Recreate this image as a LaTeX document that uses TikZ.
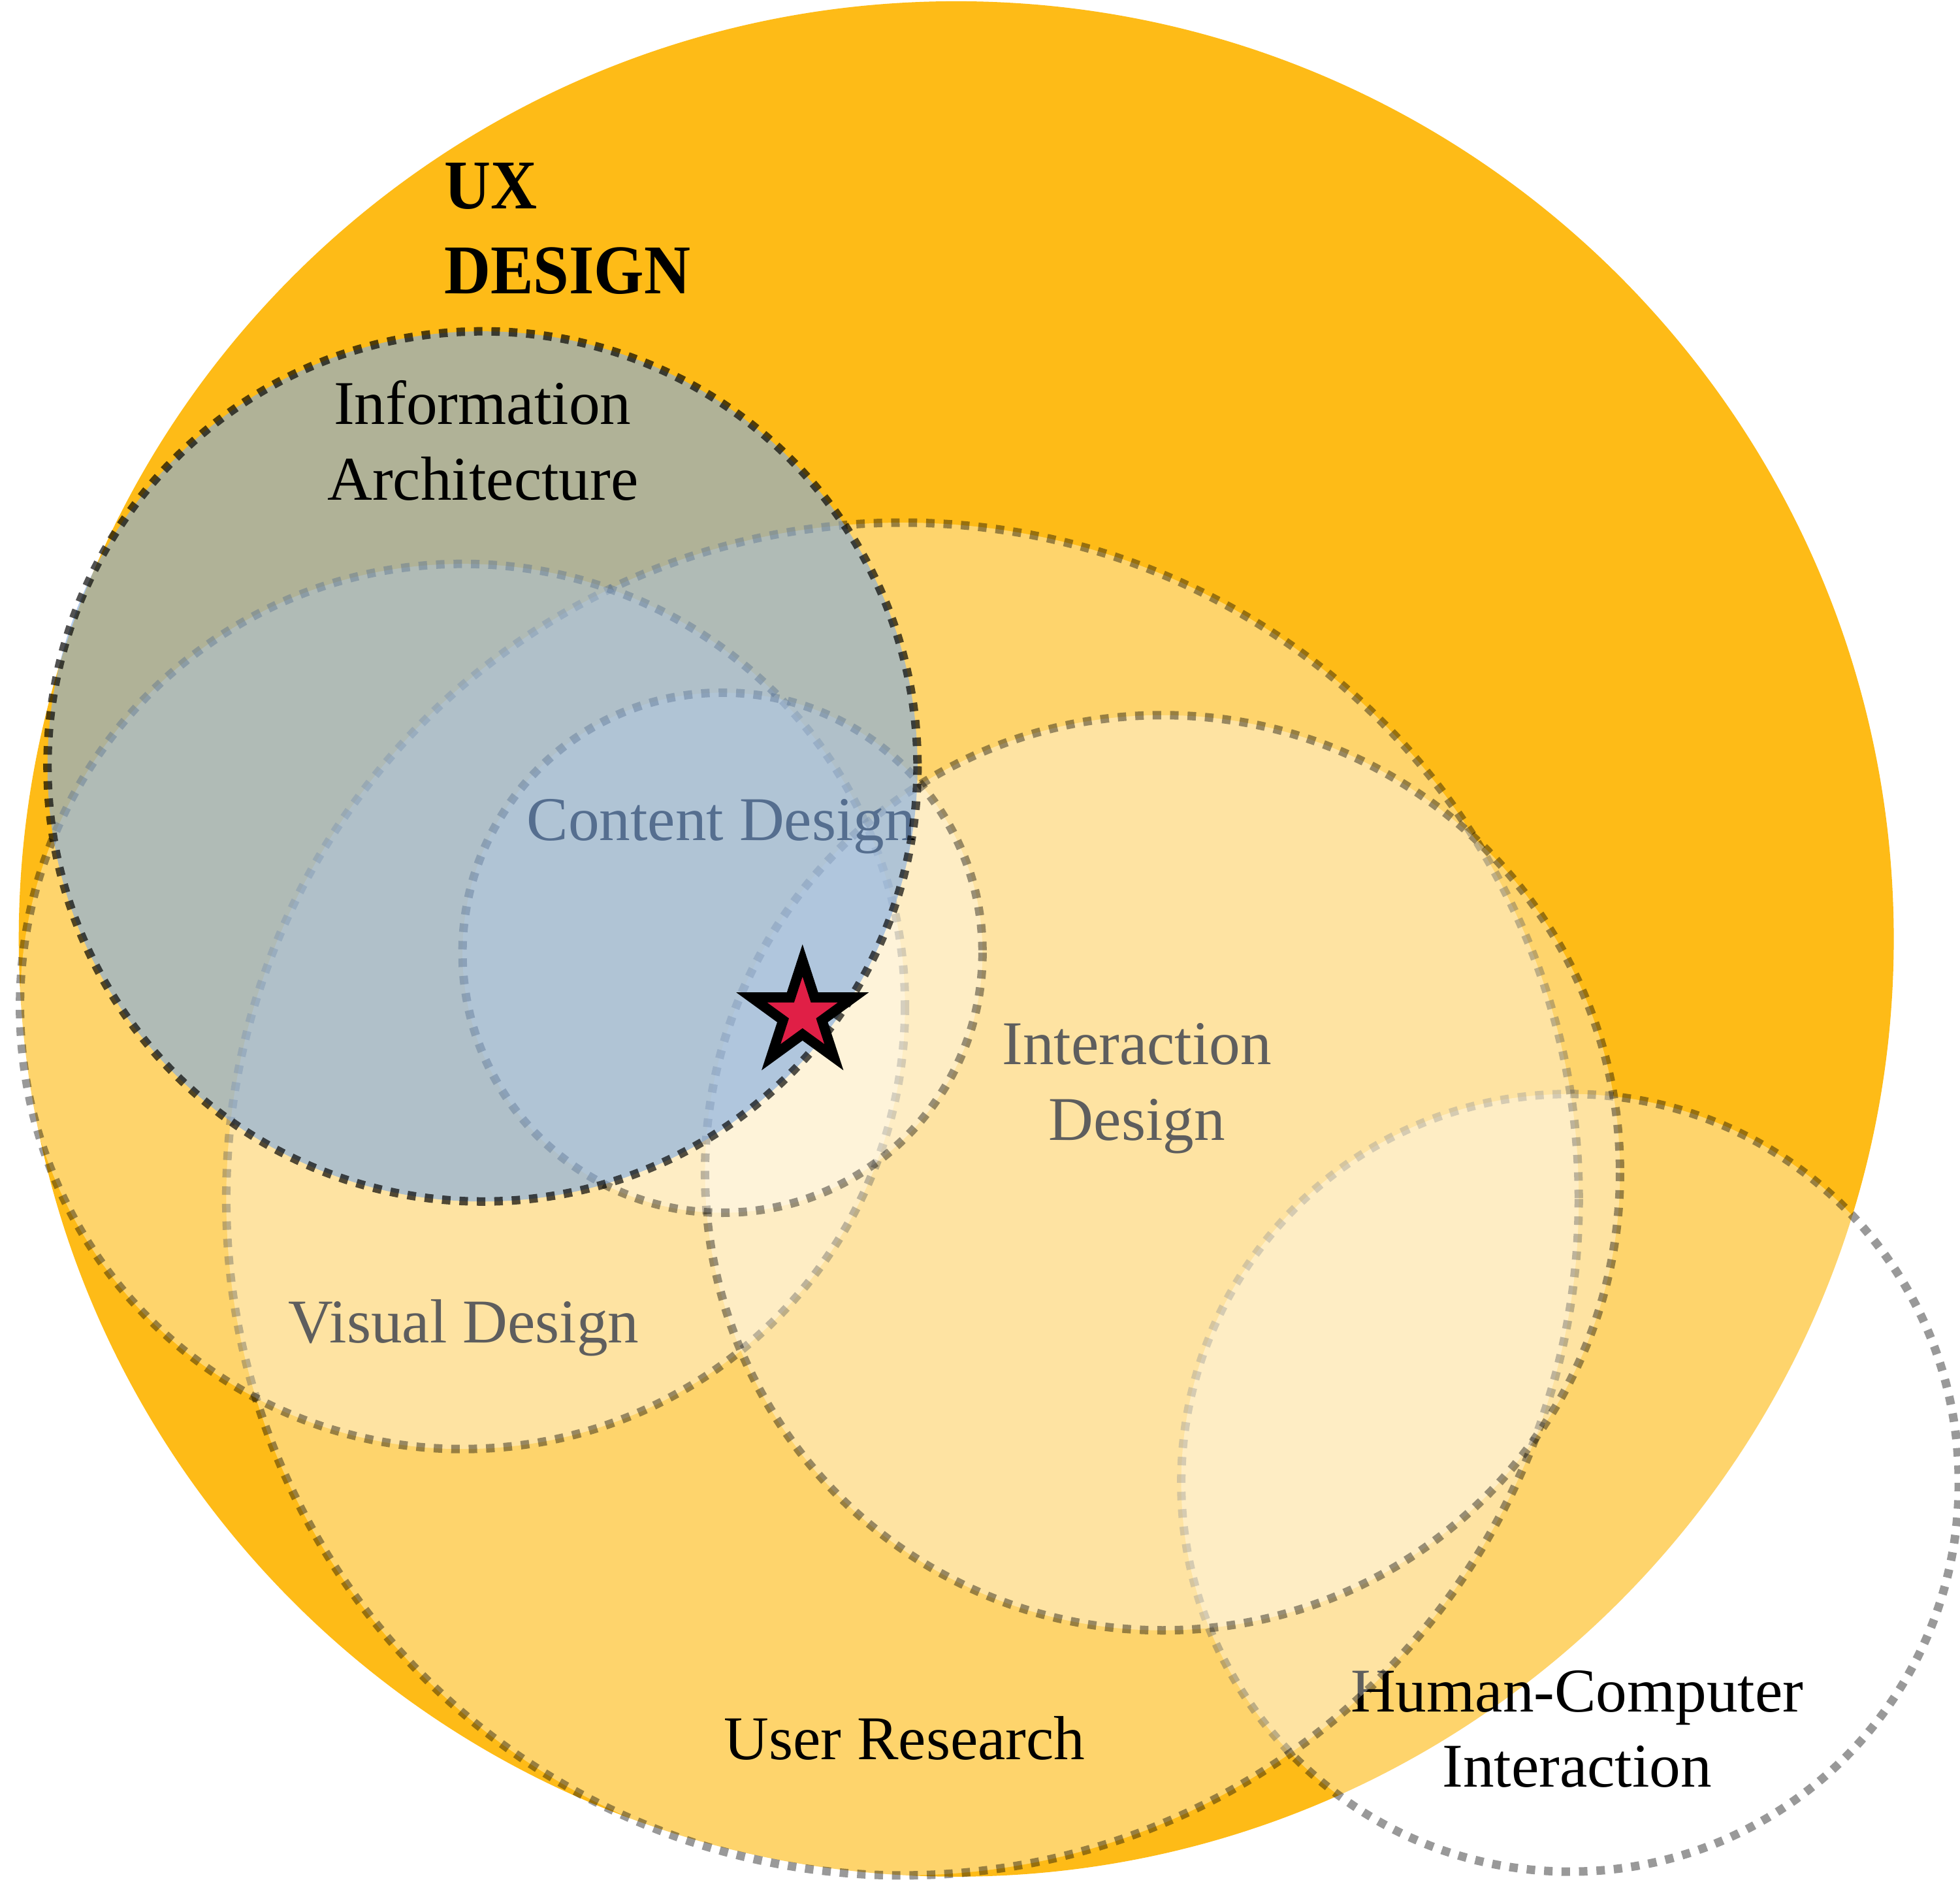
\documentclass[tikz,border=0pt]{standalone}
\usepackage{fontspec}
\setmainfont{Liberation Serif}
\newfontfamily\uxfont{Liberation Serif}[FakeStretch=0.92]
\definecolor{uxorange}{RGB}{254,187,23}
\definecolor{iablue}{RGB}{133,173,224}
\definecolor{starred}{RGB}{224,31,70}
\begin{document}
\begin{tikzpicture}[x=0.0191388cm,y=-0.0191388cm,
  ring/.style={fill=white, fill opacity=0.37, draw=black, draw opacity=0.4,
    line width=3.7pt, dash pattern=on 3.7pt off 3.9pt},
  iaring/.style={fill=iablue, fill opacity=0.64, draw=black, draw opacity=0.68,
    line width=3.7pt, dash pattern=on 3.7pt off 3.9pt},
  lbl/.style={inner sep=0pt, anchor=base, text=black,
    font=\fontsize{27.1}{32.9}\selectfont},
  uxlbl/.style={inner sep=0pt, anchor=base west, text=black,
    font=\uxfont\bfseries\fontsize{30.4}{36.8}\selectfont},
  starshape/.style={fill=starred, draw=black, line width=4.35pt, line join=miter}]
\useasboundingbox (0,0) rectangle (1568,1504.8);
\fill[white] (0,0) rectangle (1568,1504.8);
% UX design
\fill[uxorange] (765,751) circle[radius=750];
% Human-Computer Interaction
\path[ring] (1256,1186) circle[radius=311];
\node[lbl] (hci1) at (1261.7,1369) {Human-Computer};
\node[lbl] (hci2) at (1261.7,1429.3) {Interaction};
% User Research
\path[ring] (722,959) circle[radius=541];
\node[lbl] (ur) at (723.6,1407.5) {User Research};
% labels under Visual / Interaction overlays
\node[lbl] (vd) at (371,1074) {Visual Design};
\node[lbl] (id1) at (909.5,851.6) {Interaction};
\node[lbl] (id2) at (909.6,912) {Design};
% Visual Design
\path[ring] (370,805) circle[radius=354];
% Interaction Design
\path[ring] (930,938) circle[radius=366];
% Content Design
\path[ring] (578,762) circle[radius=208];
\node[lbl] (cd) at (577,672) {Content Design};
% Information Architecture
\path[iaring] (386,613) circle[radius=348];
\node[lbl] (ia1) at (386,339.6) {Information};
\node[lbl] (ia2) at (386.3,400) {Architecture};
% UX Design title
\node[uxlbl] (ux1) at (355,167) {UX};
\node[uxlbl] (ux2) at (355,234.6) {DESIGN};
% star
\draw[starshape, shift={(642,811)}]
  (270:42.8) -- (306:16.35) -- (342:42.8) -- (18:16.35) -- (54:42.8) --
  (90:16.35) -- (126:42.8) -- (162:16.35) -- (198:42.8) -- (234:16.35) -- cycle;
\end{tikzpicture}
\end{document}
